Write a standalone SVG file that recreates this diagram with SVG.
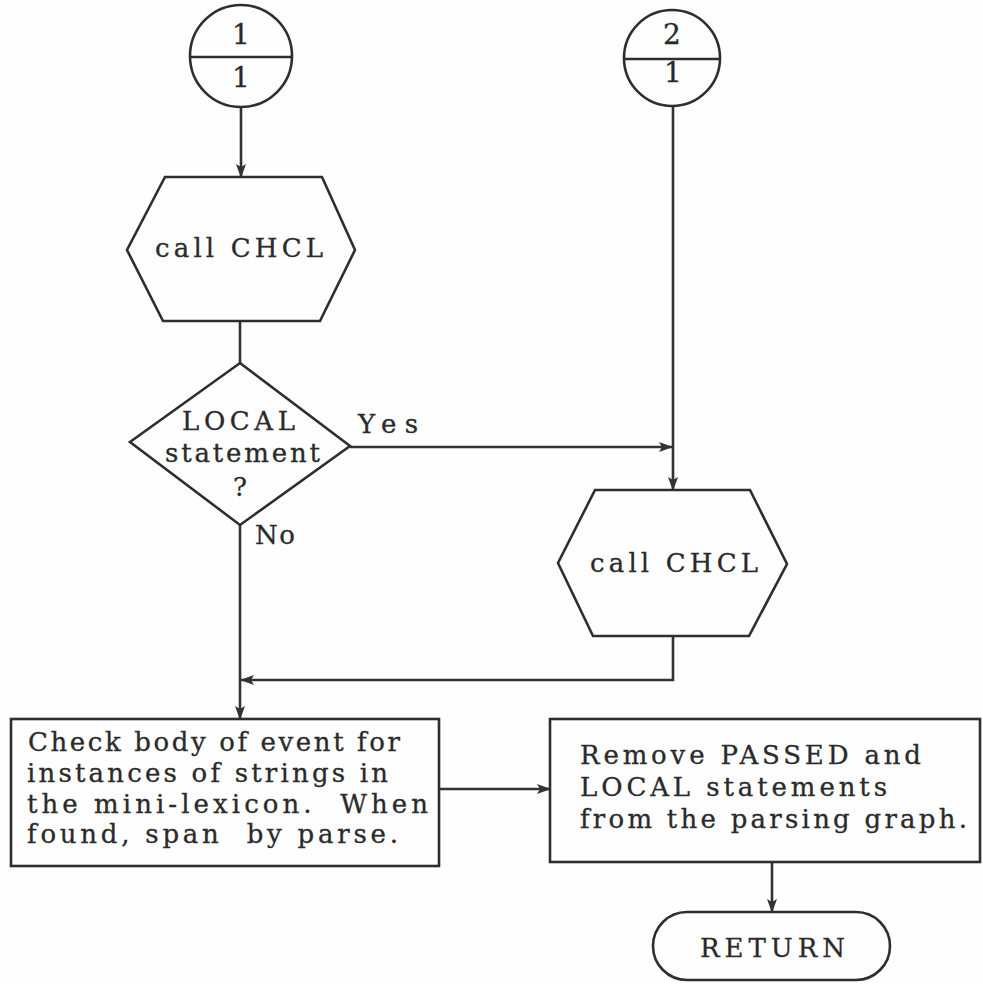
<svg xmlns="http://www.w3.org/2000/svg" width="983" height="984" viewBox="0 0 983 984">
  <style>
    .shape { fill: none; stroke: #2e2e2e; stroke-width: 2.6; stroke-linejoin: miter; }
    .wire { fill: none; stroke: #333; stroke-width: 2.6; }
    text { font-family: "DejaVu Serif", "Liberation Serif", serif; fill: #2a2a2a; stroke: #2a2a2a; stroke-width: 0.3; }
    .t { font-size: 26px; }
    .num { font-size: 28px; text-anchor: middle; }
  </style>
  <defs>
    <marker id="arrow" viewBox="0 0 14 10" refX="13" refY="5" markerWidth="14" markerHeight="10" markerUnits="userSpaceOnUse" orient="auto">
      <path d="M0,0 L14,5 L0,10 L3,5 Z" fill="#333"/>
    </marker>
  </defs>
  <rect width="983" height="984" fill="#fefefe"/>

  <!-- connectors -->
  <g id="connectors">
    <line class="wire" x1="241" y1="107" x2="241" y2="177" marker-end="url(#arrow)"/>
    <line class="wire" x1="240" y1="321" x2="240" y2="363"/>
    <line class="wire" x1="673" y1="106" x2="673" y2="490" marker-end="url(#arrow)"/>
    <line class="wire" x1="350" y1="447" x2="672" y2="447" marker-end="url(#arrow)"/>
    <line class="wire" x1="240" y1="525" x2="240" y2="719" marker-end="url(#arrow)"/>
    <polyline class="wire" points="673,636 673,680 241,680" marker-end="url(#arrow)"/>
    <line class="wire" x1="439" y1="789" x2="550" y2="789" marker-end="url(#arrow)"/>
    <line class="wire" x1="772" y1="862" x2="772" y2="912" marker-end="url(#arrow)"/>
  </g>

  <!-- off-page connector 1/1 -->
  <g id="connector-1-1">
    <circle class="shape" cx="241" cy="56" r="51"/>
    <line class="shape" x1="190" y1="57" x2="292" y2="57"/>
    <text class="num" x="241" y="44">1</text>
    <text class="num" x="241" y="87">1</text>
  </g>

  <!-- off-page connector 2/1 -->
  <g id="connector-2-1">
    <circle class="shape" cx="672" cy="58" r="48"/>
    <line class="shape" x1="624" y1="59" x2="720" y2="59"/>
    <text class="num" x="672" y="44">2</text>
    <text class="num" x="673" y="82">1</text>
  </g>

  <!-- call CHCL (left) -->
  <g id="call-chcl-1">
    <polygon class="shape" points="165,177 322,177 355,250 320,321 163,321 127,250"/>
    <text class="t" x="155" y="257" textLength="168" lengthAdjust="spacing">call CHCL</text>
  </g>

  <!-- LOCAL statement decision -->
  <g id="local-decision">
    <polygon class="shape" points="240,363 350,446 240,525 130,442"/>
    <text class="t" x="182" y="430" textLength="113" lengthAdjust="spacing">LOCAL</text>
    <text class="t" x="165" y="462" textLength="155" lengthAdjust="spacing">statement</text>
    <text class="t" x="240" y="496" text-anchor="middle">?</text>
    <text class="t" x="358" y="433" textLength="60" lengthAdjust="spacing">Yes</text>
    <text class="t" x="255" y="544" textLength="40" lengthAdjust="spacing">No</text>
  </g>

  <!-- call CHCL (right) -->
  <g id="call-chcl-2">
    <polygon class="shape" points="595,490 750,490 787,564 749,636 593,636 558,563"/>
    <text class="t" x="590" y="572" textLength="168" lengthAdjust="spacing">call CHCL</text>
  </g>

  <!-- check body process -->
  <g id="check-body">
    <rect class="shape" x="11" y="719" width="428" height="147"/>
    <text class="t" x="28" y="751" textLength="372" lengthAdjust="spacing">Check body of event for</text>
    <text class="t" x="27" y="782" textLength="361" lengthAdjust="spacing">instances of strings in</text>
    <text class="t" x="27" y="813" textLength="401" lengthAdjust="spacing" xml:space="preserve">the mini-lexicon.  When</text>
    <text class="t" x="27" y="843" textLength="371" lengthAdjust="spacing" xml:space="preserve">found, span  by parse.</text>
  </g>

  <!-- remove statements process -->
  <g id="remove-statements">
    <rect class="shape" x="550" y="719" width="430" height="143"/>
    <text class="t" x="580" y="764" textLength="341" lengthAdjust="spacing">Remove PASSED and</text>
    <text class="t" x="580" y="796" textLength="307" lengthAdjust="spacing">LOCAL statements</text>
    <text class="t" x="580" y="828" textLength="387" lengthAdjust="spacing">from the parsing graph.</text>
  </g>

  <!-- RETURN terminal -->
  <g id="return">
    <rect class="shape" x="653" y="912" width="237" height="68" rx="34" ry="34"/>
    <text class="t" x="700" y="957" textLength="145" lengthAdjust="spacing">RETURN</text>
  </g>
</svg>
